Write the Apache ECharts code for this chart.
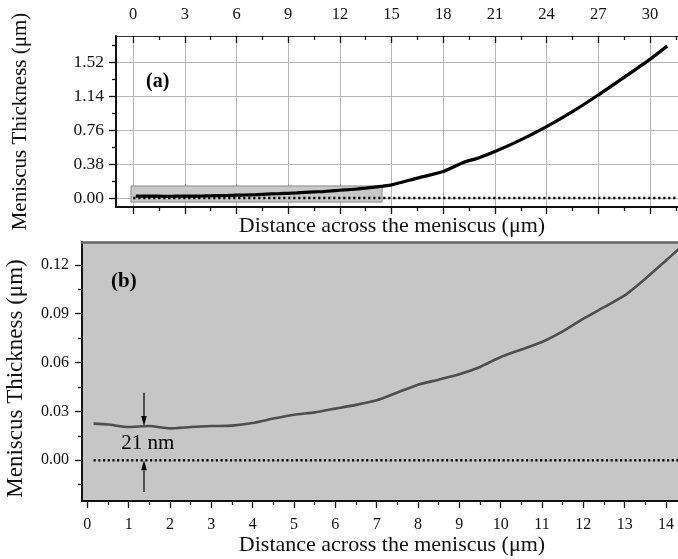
<!DOCTYPE html>
<html>
<head>
<meta charset="utf-8">
<script src="https://cdn.jsdelivr.net/npm/echarts@6/dist/echarts.min.js"></script>
<style>
  html, body { margin: 0; padding: 0; background: #fff; }
  #chart { width: 678px; height: 559px; }
</style>
</head>
<body>
<div id="chart"></div>
<script>
// Meniscus thickness profile: distance across the meniscus (μm) vs thickness (μm)
const distance = [0.15, 0.5, 1, 1.5, 2, 2.5, 3, 3.5, 4, 4.5, 5, 5.5, 6, 6.5, 7, 7.5, 8, 8.5, 9, 9.5,
  10, 10.5, 11, 11.5, 12, 12.5, 13, 13.5, 14, 14.5, 15, 16.5, 18, 19.2, 20, 21, 22.5, 24, 25.5, 27,
  28.5, 30, 31.0];
const thickness = [0.0225, 0.0220, 0.0204, 0.0210, 0.0196, 0.0204, 0.0210, 0.0213, 0.0229, 0.0256,
  0.0280, 0.0294, 0.0317, 0.0340, 0.0368, 0.0416, 0.0464, 0.0495, 0.0528, 0.0573,
  0.0634, 0.0680, 0.0726, 0.0791, 0.0869, 0.0940, 0.1012, 0.1115, 0.1227, 0.1340,
  0.1470, 0.2230, 0.2960, 0.4000, 0.4450, 0.5190, 0.6500, 0.7980, 0.9650, 1.1510,
  1.3480, 1.5490, 1.6970];

// Axis extents
const topXRange = [-1, 31.63];
const topYRange = [-0.1, 1.81];
const bottomXRange = [-0.13, 14.29];
const bottomYRange = [-0.025, 0.134];

// Tick values
const topXTicks = [0, 3, 6, 9, 12, 15, 18, 21, 24, 27, 30];
const topXMinor = [1.5, 4.5, 7.5, 10.5, 13.5, 16.5, 19.5, 22.5, 25.5, 28.5, 31.5];
const topYTicks = [0, 0.38, 0.76, 1.14, 1.52];
const topYMinor = [0.19, 0.57, 0.95, 1.33, 1.71];
const bottomXTicks = [0, 1, 2, 3, 4, 5, 6, 7, 8, 9, 10, 11, 12, 13, 14];
const bottomXMinor = [0.5, 1.5, 2.5, 3.5, 4.5, 5.5, 6.5, 7.5, 8.5, 9.5, 10.5, 11.5, 12.5, 13.5];
const bottomYTicks = [0, 0.03, 0.06, 0.09, 0.12];
const bottomYMinor = [-0.015, 0.015, 0.045, 0.075, 0.105];

// Zoomed window outlined on the overview panel
const zoomX = [-0.13, 14.45];
const zoomY = [-0.045, 0.135];

// Zero reference (dotted) extents
const zeroTopX = [0, 31.63];
const zeroBottomX = [0.15, 14.29];

// Minimum film thickness annotation
const gapNm = 21;
const gapX = 1.37;
const arrowLen = 0.0205;

const FONT = '"Liberation Serif", "Times New Roman", serif';
const INK = '#111';

const profile = distance.map((d, i) => [d, thickness[i]]);

function axis(c) {
  return {
    type: 'value',
    gridIndex: c.grid,
    position: c.pos,
    min: c.range[0],
    max: c.range[1],
    name: c.name || '',
    nameLocation: 'middle',
    nameGap: c.nameGap || 0,
    nameTextStyle: Object.assign({ fontFamily: FONT, fontSize: 22, color: INK }, c.nameStyle || {}),
    axisLine: { show: !!c.line, onZero: false, lineStyle: c.line || {} },
    axisTick: {
      show: !!c.tickLen, inside: !!c.inside, length: c.tickLen || 0,
      customValues: c.ticks, lineStyle: { color: INK, width: 1.3 }
    },
    axisLabel: c.labelSize ? {
      show: true, customValues: c.ticks, fontFamily: FONT, fontSize: c.labelSize,
      color: INK, margin: c.margin,
      formatter: v => (c.decimals ? Number(v).toFixed(c.decimals) : String(Math.round(v)))
    } : { show: false },
    splitLine: c.split ? { show: true, lineStyle: { color: '#b5b5b5', width: 1 } } : { show: false },
    minorTick: { show: false },
    minorSplitLine: { show: false },
    splitArea: { show: false }
  };
}

const xAxes = [
  // overview panel
  axis({ grid: 0, pos: 'bottom', range: topXRange, ticks: topXTicks, tickLen: 7,
    line: { color: INK, width: 2 }, split: true,
    name: 'Distance across the meniscus (μm)', nameGap: 8, nameStyle: { padding: [0, 10, 0, 0] } }),
  axis({ grid: 0, pos: 'bottom', range: topXRange, ticks: topXMinor, tickLen: 4 }),
  axis({ grid: 0, pos: 'top', range: topXRange, ticks: topXTicks, tickLen: 7, inside: true,
    line: { color: '#333', width: 1 }, labelSize: 16.5, margin: 13 }),
  axis({ grid: 0, pos: 'top', range: topXRange, ticks: topXMinor, tickLen: 4, inside: true }),
  // zoomed panel
  axis({ grid: 1, pos: 'bottom', range: bottomXRange, ticks: bottomXTicks, tickLen: 7,
    line: { color: INK, width: 2 }, labelSize: 16, margin: 16,
    name: 'Distance across the meniscus (μm)', nameGap: 33, nameStyle: { padding: [0, 0, 0, 24] } }),
  axis({ grid: 1, pos: 'bottom', range: bottomXRange, ticks: bottomXMinor, tickLen: 4 }),
  axis({ grid: 1, pos: 'top', range: bottomXRange, ticks: [], line: { color: '#666', width: 2.5 } })
];

const yAxes = [
  axis({ grid: 0, pos: 'left', range: topYRange, ticks: topYTicks, tickLen: 7,
    line: { color: INK, width: 2 }, split: true, labelSize: 17.5, margin: 12, decimals: 2,
    name: 'Meniscus Thickness (μm)', nameGap: 85, nameStyle: { fontSize: 21 } }),
  axis({ grid: 0, pos: 'left', range: topYRange, ticks: topYMinor, tickLen: 4 }),
  axis({ grid: 1, pos: 'left', range: bottomYRange, ticks: bottomYTicks, tickLen: 7,
    line: { color: INK, width: 2 }, labelSize: 16, margin: 13, decimals: 2,
    name: 'Meniscus Thickness (μm)', nameGap: 55, nameStyle: { fontSize: 23, padding: [0, 14, 0, 0] } }),
  axis({ grid: 1, pos: 'left', range: bottomYRange, ticks: bottomYMinor, tickLen: 4 })
];

const chart = echarts.init(document.getElementById('chart'), null, { renderer: 'canvas' });

chart.setOption({
  animation: false,
  backgroundColor: '#ffffff',
  grid: [
    { left: 116, top: 36, right: 0, height: 171, outerBoundsMode: 'none' },
    { left: 82, top: 242, right: 0, height: 259, outerBoundsMode: 'none',
      show: true, backgroundColor: '#c6c6c6', borderWidth: 0 }
  ],
  xAxis: xAxes,
  yAxis: yAxes,
  series: [
    {
      name: 'zoom window', type: 'line', xAxisIndex: 0, yAxisIndex: 0, data: [], z: 1,
      markArea: {
        silent: true,
        itemStyle: { color: '#c8c8c8', borderColor: '#8a8a8a', borderWidth: 1 },
        data: [[{ coord: [zoomX[0], zoomY[0]] }, { coord: [zoomX[1], zoomY[1]] }]]
      }
    },
    {
      name: 'zero top', type: 'line', xAxisIndex: 0, yAxisIndex: 0, z: 3,
      data: zeroTopX.map(x => [x, 0]), symbol: 'none',
      lineStyle: { color: '#000', width: 2.5, type: [2.2, 2.8] }
    },
    {
      name: 'profile top', type: 'line', xAxisIndex: 0, yAxisIndex: 0, z: 4,
      data: profile, symbol: 'none', smooth: 0.2,
      lineStyle: { color: '#000', width: 3.2 }
    },
    {
      name: 'zero bottom', type: 'line', xAxisIndex: 4, yAxisIndex: 2, z: 3,
      data: zeroBottomX.map(x => [x, 0]), symbol: 'none',
      lineStyle: { color: '#000', width: 2.5, type: [2.2, 2.5] }
    },
    {
      name: 'profile bottom', type: 'line', xAxisIndex: 4, yAxisIndex: 2, z: 4,
      data: profile, symbol: 'none', smooth: 0.2,
      lineStyle: { color: '#4e4e4e', width: 2.6 }
    }
  ]
});

// Annotation: minimum film thickness with two opposing arrows
const toPx = (x, y) => chart.convertToPixel({ xAxisIndex: 4, yAxisIndex: 2 }, [x, y]);
const gap = gapNm / 1000;
const pTop = toPx(gapX, gap);
const pTopStart = toPx(gapX, gap + arrowLen);
const pBot = toPx(gapX, 0);
const pBotStart = toPx(gapX, -arrowLen + 0.001);
const pText = toPx(gapX + 0.09, gap / 2);

function arrow(from, tip, dir) {
  const headLen = 10, halfW = 2.8;
  const base = tip[1] - dir * headLen;
  return [
    { type: 'line', shape: { x1: from[0], y1: from[1], x2: tip[0], y2: base },
      style: { stroke: '#000', lineWidth: 1.2 }, z: 10 },
    { type: 'polygon', shape: { points: [[tip[0], tip[1]], [tip[0] - halfW, base], [tip[0] + halfW, base]] },
      style: { fill: '#000' }, z: 10 }
  ];
}

chart.setOption({
  graphic: [
    { type: 'text', left: 146, top: 72, z: 10,
      style: { text: '(a)', font: 'bold 20px ' + FONT, fill: '#000' } },
    { type: 'text', left: 111, top: 271, z: 10,
      style: { text: '(b)', font: 'bold 21px ' + FONT, fill: '#000' } },
    { type: 'text', x: pText[0], y: pText[1], z: 10,
      style: { text: gapNm + ' nm', font: '21px ' + FONT, fill: '#000', align: 'center', verticalAlign: 'middle' } }
  ].concat(arrow(pTopStart, pTop, 1), arrow(pBotStart, pBot, -1))
});
</script>
</body>
</html>
